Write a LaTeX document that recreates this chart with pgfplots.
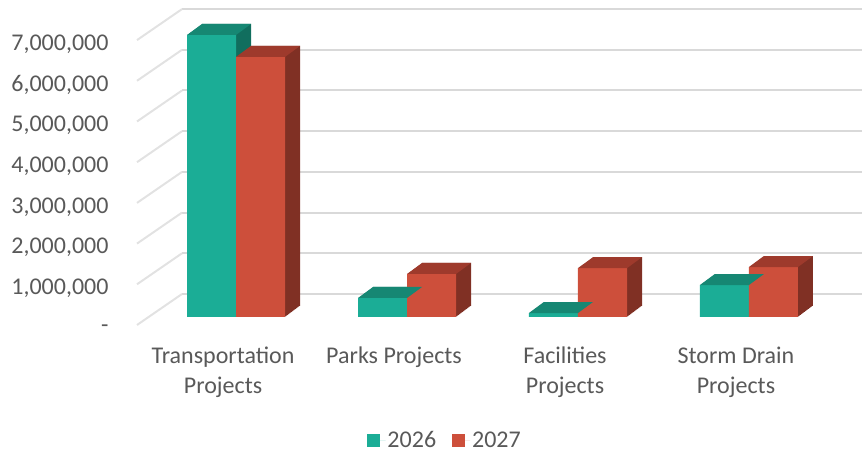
\documentclass[border=0pt]{standalone}
\usepackage{pgfplots}
\pgfplotsset{compat=1.18}
\usepackage{pgfplotstable}
\usepackage{fontspec}
\setmainfont{Carlito}
\definecolor{tealF}{RGB}{27,173,150}
\definecolor{tealT}{RGB}{22,135,115}
\definecolor{tealS}{RGB}{17,110,94}
\definecolor{redF}{RGB}{205,79,59}
\definecolor{redT}{RGB}{158,58,44}
\definecolor{redS}{RGB}{128,48,36}
\definecolor{txt}{RGB}{89,89,89}
\definecolor{gridc}{RGB}{217,217,217}
\pgfdeclareplotmark{topT}{%
 \pgfpathmoveto{\pgfpoint{-49pt}{0pt}}%
 \pgfpathlineto{\pgfpoint{0pt}{0pt}}%
 \pgfpathlineto{\pgfpoint{15pt}{11pt}}%
 \pgfpathlineto{\pgfpoint{-34pt}{11pt}}%
 \pgfpathclose\pgfusepathqfill}
\pgfdeclareplotmark{topR}{%
 \pgfpathmoveto{\pgfpoint{0pt}{0pt}}%
 \pgfpathlineto{\pgfpoint{49pt}{0pt}}%
 \pgfpathlineto{\pgfpoint{64pt}{11pt}}%
 \pgfpathlineto{\pgfpoint{15pt}{11pt}}%
 \pgfpathclose\pgfusepathqfill}
\pgfplotstableread{
x y2026 y2027
0 6930000 6390000
1 467000 1057000
2 98000 1200000
3 786000 1228000
}\budget
\begin{document}
\begin{tikzpicture}
\path[use as bounding box] (0pt,0pt) rectangle (862pt,455pt);
\begin{axis}[
 at={(182pt,97.3pt)}, anchor=south west,
 scale only axis, width=680pt, height=345.95pt,
 xmin=-0.316, xmax=3.661, ymin=-1000000, ymax=7500000,
 clip=false, scaled y ticks=false,
 axis line style={draw=none}, tick style={draw=none},
 ymajorgrids, major grid style={gridc, line width=2pt, yshift=23pt},
 ytick={0,1000000,2000000,3000000,4000000,5000000,6000000,7000000},
 yticklabels={-,{1,000,000},{2,000,000},{3,000,000},{4,000,000},{5,000,000},{6,000,000},{7,000,000}},
 xtick={0,1,2,3},
 xticklabels={{Transportation\\Projects},{Parks Projects},{Facilities\\Projects},{Storm Drain\\Projects}},
 yticklabel style={anchor=east, xshift=-70pt, yshift=-12pt, font=\fontsize{24}{30}\selectfont, text=txt},
 xticklabel style={align=center, anchor=north, xshift=-13pt, yshift=14pt, font=\fontsize{24}{30}\selectfont, text=txt},
 legend columns=2,
 legend style={at={(0.387,-0.238)}, anchor=center, draw=none, fill=none,
   font=\fontsize{24}{28}\selectfont, text=txt,
   /tikz/every even column/.append style={column sep=14pt}},
]
\pgfplotsinvokeforeach{0,...,7}{
 \draw[gridc!75, line width=2pt] ([xshift=-45pt,yshift=-8pt]axis cs:-0.316,#1000000) -- ([yshift=23pt]axis cs:-0.316,#1000000);
}
% 2026 series: side extrusion, top face, front face
\pgfplotsinvokeforeach{1,...,15}{
 \addplot[ybar, bar width=49pt, bar shift=-24.5pt, fill=tealS, draw=none, forget plot, xshift=#1pt, yshift=#1*0.7333pt] table[x=x,y=y2026]{\budget};
}
\addplot[only marks, mark=topT, mark options={fill=tealT, draw=none}, forget plot] table[x=x,y=y2026]{\budget};
\addplot[ybar, bar width=49pt, bar shift=-24.5pt, fill=tealF, draw=none,
  legend image code/.code={\fill[tealF] (0pt,-6.5pt) rectangle (13pt,6.5pt); \path (0pt,0pt) -- (18pt,0pt);}] table[x=x,y=y2026]{\budget};
\addlegendentry{2026}
% 2027 series
\pgfplotsinvokeforeach{1,...,15}{
 \addplot[ybar, bar width=49pt, bar shift=24.5pt, fill=redS, draw=none, forget plot, xshift=#1pt, yshift=#1*0.7333pt] table[x=x,y=y2027]{\budget};
}
\addplot[only marks, mark=topR, mark options={fill=redT, draw=none}, forget plot] table[x=x,y=y2027]{\budget};
\addplot[ybar, bar width=49pt, bar shift=24.5pt, fill=redF, draw=none,
  legend image code/.code={\fill[redF] (0pt,-6.5pt) rectangle (13pt,6.5pt); \path (0pt,0pt) -- (18pt,0pt);}] table[x=x,y=y2027]{\budget};
\addlegendentry{2027}
\end{axis}
\end{tikzpicture}
\end{document}
